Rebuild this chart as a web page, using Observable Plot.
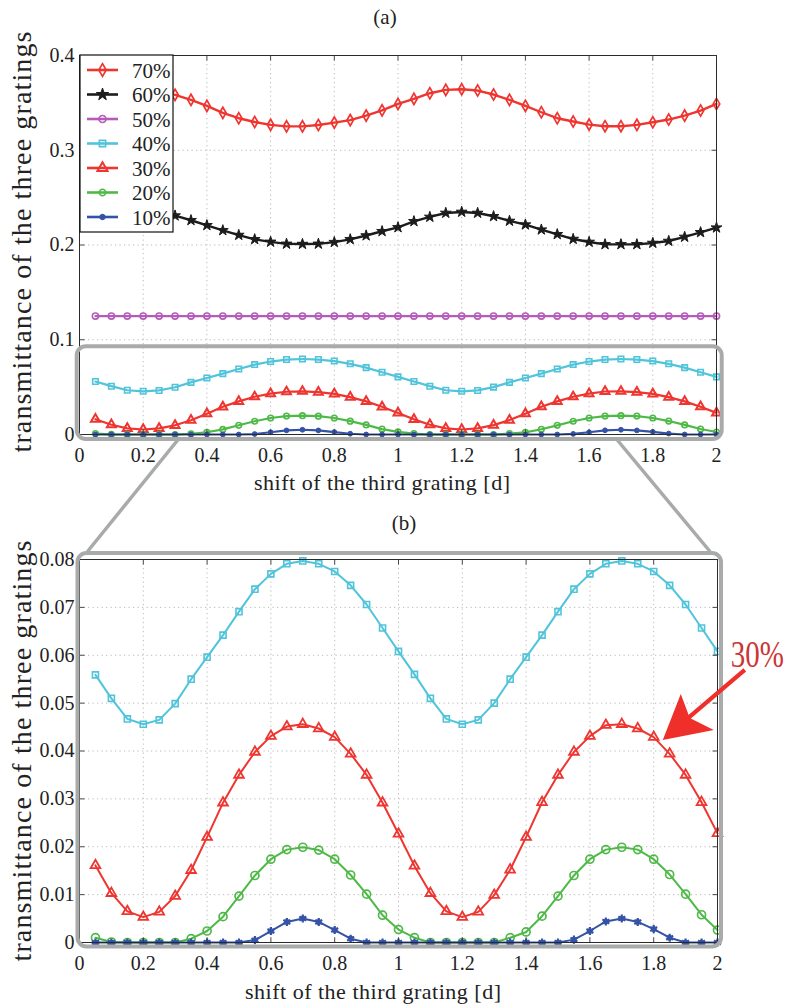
<!DOCTYPE html>
<html>
<head>
<meta charset="utf-8">
<script src="https://cdn.jsdelivr.net/npm/d3@7"></script>
<script src="https://cdn.jsdelivr.net/npm/@observablehq/plot@0.6"></script>
<style>
  html, body { margin: 0; padding: 0; background: #fff; }
  #wrap { position: relative; width: 793px; height: 1008px; background: #fff; }
  #wrap > svg { position: absolute; left: 0; }
</style>
</head>
<body>
<div id="wrap"></div>
<script>
// ---------------- data ----------------
const shift = [0.05,0.10,0.15,0.20,0.25,0.30,0.35,0.40,0.45,0.50,0.55,0.60,0.65,0.70,0.75,0.80,0.85,0.90,0.95,1.00,
               1.05,1.10,1.15,1.20,1.25,1.30,1.35,1.40,1.45,1.50,1.55,1.60,1.65,1.70,1.75,1.80,1.85,1.90,1.95,2.00];

const t70 = [0.3540,0.3600,0.3635,0.3645,0.3630,0.3585,0.3532,0.3468,0.3395,0.3338,
             0.3298,0.3268,0.3252,0.3252,0.3266,0.3292,0.3318,0.3366,0.3421,0.3489,
             0.3542,0.3602,0.3637,0.3644,0.3630,0.3588,0.3532,0.3468,0.3401,0.3338,
             0.3303,0.3271,0.3254,0.3254,0.3268,0.3296,0.3324,0.3366,0.3419,0.3489];
const t60 = [0.2250,0.2296,0.2338,0.2349,0.2338,0.2310,0.2261,0.2208,0.2155,0.2105,
             0.2060,0.2033,0.2012,0.2010,0.2012,0.2030,0.2060,0.2100,0.2145,0.2186,
             0.2250,0.2296,0.2338,0.2349,0.2338,0.2303,0.2254,0.2215,0.2162,0.2113,
             0.2063,0.2032,0.2007,0.2007,0.2007,0.2021,0.2042,0.2085,0.2134,0.2183];
const t50 = [0.125,0.125,0.125,0.125,0.125,0.125,0.125,0.125,0.125,0.125,
             0.125,0.125,0.125,0.125,0.125,0.125,0.125,0.125,0.125,0.125,
             0.125,0.125,0.125,0.125,0.125,0.125,0.125,0.125,0.125,0.125,
             0.125,0.125,0.125,0.125,0.125,0.125,0.125,0.125,0.125,0.125];
const t40 = [0.0559,0.0510,0.0467,0.0456,0.0465,0.0499,0.0550,0.0596,0.0642,0.0691,
             0.0738,0.0770,0.0791,0.0797,0.0791,0.0775,0.0746,0.0706,0.0657,0.0608,
             0.0560,0.0510,0.0467,0.0456,0.0465,0.0500,0.0550,0.0596,0.0642,0.0691,
             0.0738,0.0770,0.0791,0.0797,0.0791,0.0775,0.0746,0.0706,0.0657,0.0608];
const t30 = [0.0161,0.0103,0.0065,0.0053,0.0064,0.0097,0.0151,0.0220,0.0292,0.0350,
             0.0398,0.0431,0.0451,0.0456,0.0447,0.0429,0.0394,0.0350,0.0292,0.0227,
             0.0160,0.0103,0.0065,0.0053,0.0064,0.0099,0.0152,0.0220,0.0293,0.0350,
             0.0398,0.0431,0.0454,0.0456,0.0447,0.0429,0.0394,0.0350,0.0293,0.0228];
const t20 = [0.0010,0.0001,0,0,0,0,0.0008,0.0024,0.0054,0.0097,
             0.0140,0.0174,0.0194,0.0199,0.0193,0.0174,0.0141,0.0101,0.0057,0.0027,
             0.0010,0,0,0,0,0,0.0010,0.0022,0.0055,0.0097,
             0.0140,0.0174,0.0194,0.0199,0.0194,0.0174,0.0142,0.0101,0.0058,0.0026];
const t10 = [0,0,0,0,0,0,0,0,0,0,
             0.0005,0.0024,0.0043,0.0050,0.0043,0.0026,0.0008,0,0,0,
             0,0,0,0,0,0,0,0,0,0,
             0.0006,0.0024,0.0044,0.0050,0.0043,0.0028,0.0010,0,0,0];

const seriesNames = ["70%", "60%", "50%", "40%", "30%", "20%", "10%"];
const seriesValues = [t70, t60, t50, t40, t30, t20, t10];

const xTicks = [0, 0.2, 0.4, 0.6, 0.8, 1, 1.2, 1.4, 1.6, 1.8, 2];
const yTicksA = [0, 0.1, 0.2, 0.3, 0.4];
const yTicksB = [0, 0.01, 0.02, 0.03, 0.04, 0.05, 0.06, 0.07, 0.08];
const xDomain = [0, 2];
const yDomainA = [0, 0.4];
const yDomainB = [0, 0.08];

const panelLabels = ["(a)", "(b)"];
const xTitle = "shift of the third grating [d]";
const yTitle = "transmittance of the three gratings";
const zoomLinkX = [0.31, 1.69];        // where the connectors leave the zoom box (data x)
const annotationText = "30%";
const annotationTarget = [1.83, 0.0422]; // arrow tip (data coords, panel b)

// ---------------- styles ----------------
const FONT = '"Liberation Serif", "DejaVu Serif", serif';
const colors = ["#ee3530", "#1c1c1c", "#b35db9", "#50c4da", "#ee3530", "#4fb948", "#3553a6"];
const styleA = [
  {symbol: "diamond", r: 3.4, filled: false, sw: 1.7, lw: 2.4},
  {symbol: "star", r: 3.4, filled: true, sw: 1, lw: 2.4},
  {symbol: "circle", r: 3.1, filled: false, sw: 1.6, lw: 2.2},
  {symbol: "square", r: 3.1, filled: false, sw: 1.6, lw: 2.2},
  {symbol: "triangle", r: 3.3, filled: false, sw: 2, lw: 2.2},
  {symbol: "circle", r: 2.8, filled: false, sw: 1.6, lw: 2.2},
  {symbol: "circle", r: 2.4, filled: true, sw: 1, lw: 2.2}
];
const styleB = [
  null, null, null,
  {symbol: "square", r: 3.4, filled: false, sw: 1.6, lw: 2},
  {symbol: "triangle", r: 3.6, filled: false, sw: 1.8, lw: 2},
  {symbol: "circle", r: 4, filled: false, sw: 1.7, lw: 2},
  {symbol: "asterisk", r: 3.8, filled: false, sw: 2.2, lw: 2, extra: {symbol: "circle", r: 2.8}}
];

const tickSym = (dx, dy) => ({draw(ctx) { ctx.moveTo(0, 0); ctx.lineTo(dx, dy); }});
const fmt = d => String(d);

function chartMarks(styles, yTicks) {
  const marks = [
    Plot.gridX(xTicks, {stroke: "#b8b8b8", strokeOpacity: 1, strokeWidth: 1, strokeDasharray: "1.2,3.3"}),
    Plot.gridY(yTicks, {stroke: "#b8b8b8", strokeOpacity: 1, strokeWidth: 1, strokeDasharray: "1.2,3.3"})
  ];
  seriesValues.forEach((vals, k) => {
    const st = styles[k];
    if (!st) return;
    const data = shift.map((x, i) => ({x, y: vals[i]}));
    marks.push(Plot.line(data, {x: "x", y: "y", stroke: colors[k], strokeWidth: st.lw}));
    if (st.extra) {
      marks.push(Plot.dot(data, {x: "x", y: "y", symbol: st.extra.symbol, r: st.extra.r, fill: colors[k], stroke: "none"}));
    }
    marks.push(Plot.dot(data, {
      x: "x", y: "y", symbol: st.symbol, r: st.r,
      stroke: colors[k], strokeWidth: st.sw,
      fill: st.filled ? colors[k] : "none"
    }));
  });
  marks.push(
    Plot.frame({stroke: "#2a2a2a", strokeWidth: 1}),
    Plot.dot(xTicks, {x: d => d, frameAnchor: "bottom", symbol: tickSym(0, -5), r: 2, stroke: "#333", fill: "none", strokeWidth: 0.9}),
    Plot.dot(xTicks, {x: d => d, frameAnchor: "top", symbol: tickSym(0, 5), r: 2, stroke: "#333", fill: "none", strokeWidth: 0.9}),
    Plot.dot(yTicks, {y: d => d, frameAnchor: "left", symbol: tickSym(5, 0), r: 2, stroke: "#333", fill: "none", strokeWidth: 0.9}),
    Plot.dot(yTicks, {y: d => d, frameAnchor: "right", symbol: tickSym(-5, 0), r: 2, stroke: "#333", fill: "none", strokeWidth: 0.9}),
    Plot.axisX(xTicks, {tickSize: 0, tickPadding: 13, tickFormat: fmt, label: null, fontSize: 20}),
    Plot.axisY(yTicks, {tickSize: 0, tickPadding: 5, tickFormat: fmt, label: null, fontSize: 20})
  );
  return marks;
}

const W = 793;
const topOffsetA = 0, topOffsetB = 500;

const plotA = Plot.plot({
  width: W, height: 500,
  marginTop: 55, marginBottom: 66, marginLeft: 79, marginRight: 77,
  x: {domain: xDomain, label: null},
  y: {domain: yDomainA, label: null},
  style: {fontFamily: FONT, fontSize: "20px", color: "#222", background: "transparent", overflow: "visible"},
  marks: chartMarks(styleA, yTicksA)
});
const plotB = Plot.plot({
  width: W, height: 508,
  marginTop: 59, marginBottom: 66, marginLeft: 79, marginRight: 76,
  x: {domain: xDomain, label: null},
  y: {domain: yDomainB, label: null},
  style: {fontFamily: FONT, fontSize: "20px", color: "#222", background: "transparent", overflow: "visible"},
  marks: chartMarks(styleB, yTicksB)
});

const wrap = document.getElementById("wrap");
plotA.style.top = topOffsetA + "px";
plotB.style.top = topOffsetB + "px";
wrap.appendChild(plotA);
wrap.appendChild(plotB);

function scaleFn(p, name) {
  const s = p.scale(name);
  return s.apply ? (v => s.apply(v)) : d3.scaleLinear(s.domain, s.range);
}
const xA = scaleFn(plotA, "x"), yA = v => scaleFn(plotA, "y")(v) + topOffsetA;
const xB = scaleFn(plotB, "x"), yB = v => scaleFn(plotB, "y")(v) + topOffsetB;

// ---------------- overlay: titles, legend, zoom box, annotation ----------------
const ov = d3.select(wrap).append("svg")
  .attr("width", W).attr("height", 1008)
  .style("top", "0px")
  .attr("font-family", FONT)
  .attr("fill", "#222");

// panel labels
ov.append("text").attr("x", 385).attr("y", 24).attr("text-anchor", "middle").attr("font-size", 21).text(panelLabels[0]);
ov.append("text").attr("x", 404).attr("y", 530).attr("text-anchor", "middle").attr("font-size", 21).text(panelLabels[1]);

// axis titles
const frameA = {l: xA(0), r: xA(2), t: yA(0.4), b: yA(0)};
const frameB = {l: xB(0), r: xB(2), t: yB(0.08), b: yB(0)};
ov.append("text").attr("x", 382).attr("y", frameA.b + 56).attr("text-anchor", "middle")
  .attr("font-size", 22).attr("textLength", 256).attr("lengthAdjust", "spacing").text(xTitle);
ov.append("text").attr("x", 373).attr("y", frameB.b + 57).attr("text-anchor", "middle")
  .attr("font-size", 22).attr("textLength", 256).attr("lengthAdjust", "spacing").text(xTitle);
[[frameA, 242], [frameB, 751]].forEach(([f, cy]) => {
  ov.append("text").attr("transform", `translate(31,${cy}) rotate(-90)`).attr("text-anchor", "middle")
    .attr("font-size", 28).attr("textLength", 421).attr("lengthAdjust", "spacing").text(yTitle);
});

// zoom boxes and connectors
const gray = "#a9abab";
const boxA = {x1: xA(0) - 2.3, x2: xA(2) + 5.7, y1: yA(0.08) - 12, y2: yA(0) + 5};
const boxB = {x1: xB(0) - 1.5, x2: xB(2) + 4, y1: yB(0.08) - 6, y2: yB(0) + 4.5};
[boxA, boxB].forEach(b => {
  ov.append("rect").attr("x", b.x1).attr("y", b.y1).attr("width", b.x2 - b.x1).attr("height", b.y2 - b.y1)
    .attr("rx", 9).attr("ry", 9).attr("fill", "none").attr("stroke", gray).attr("stroke-width", 4);
});
ov.append("line").attr("x1", xA(zoomLinkX[0])).attr("y1", boxA.y2 + 1).attr("x2", boxB.x1 + 10).attr("y2", boxB.y1 - 1.5)
  .attr("stroke", gray).attr("stroke-width", 3.5);
ov.append("line").attr("x1", xA(zoomLinkX[1])).attr("y1", boxA.y2 + 1).attr("x2", boxB.x2 - 11).attr("y2", boxB.y1 - 1.5)
  .attr("stroke", gray).attr("stroke-width", 3.5);

// legend (panel a)
const symMap = {diamond: d3.symbolDiamond, star: d3.symbolStar, circle: d3.symbolCircle, square: d3.symbolSquare, triangle: d3.symbolTriangle};
const lg = ov.append("g");
lg.append("rect").attr("x", frameA.l + 1).attr("y", frameA.t).attr("width", 93).attr("height", 177)
  .attr("fill", "#fff").attr("stroke", "#111").attr("stroke-width", 1.2);
seriesNames.forEach((name, k) => {
  const cy = frameA.t + 15 + k * 24.5;
  const st = styleA[k];
  lg.append("line").attr("x1", frameA.l + 8).attr("x2", frameA.l + 39).attr("y1", cy).attr("y2", cy)
    .attr("stroke", colors[k]).attr("stroke-width", 2.6);
  lg.append("path").attr("transform", `translate(${frameA.l + 23.5},${cy})`)
    .attr("d", d3.symbol(symMap[st.symbol], Math.PI * st.r * st.r * 1.3)())
    .attr("fill", st.filled ? colors[k] : "none").attr("stroke", colors[k]).attr("stroke-width", st.sw);
  lg.append("text").attr("x", frameA.l + 53).attr("y", cy + 7.5).attr("font-size", 21).text(name);
});

// 30% arrow annotation (panel b)
const red = "#ee2f2a";
const tx = xB(annotationTarget[0]), ty = yB(annotationTarget[1]);
ov.append("line").attr("x1", tx + 22).attr("y1", ty - 19).attr("x2", tx + 82).attr("y2", ty - 70)
  .attr("stroke", red).attr("stroke-width", 4.2);
ov.append("path")
  .attr("d", `M${tx},${ty} L${tx + 18},${ty - 46} L${tx + 27},${ty - 22} L${tx + 51},${ty - 10} Z`)
  .attr("fill", red);
ov.append("text")
  .attr("transform", `translate(${tx + 68},${ty - 73}) scale(1,1.3)`)
  .attr("x", 0).attr("y", 0).attr("font-size", 29)
  .attr("fill", "#cc3535").text(annotationText);
</script>
</body>
</html>
